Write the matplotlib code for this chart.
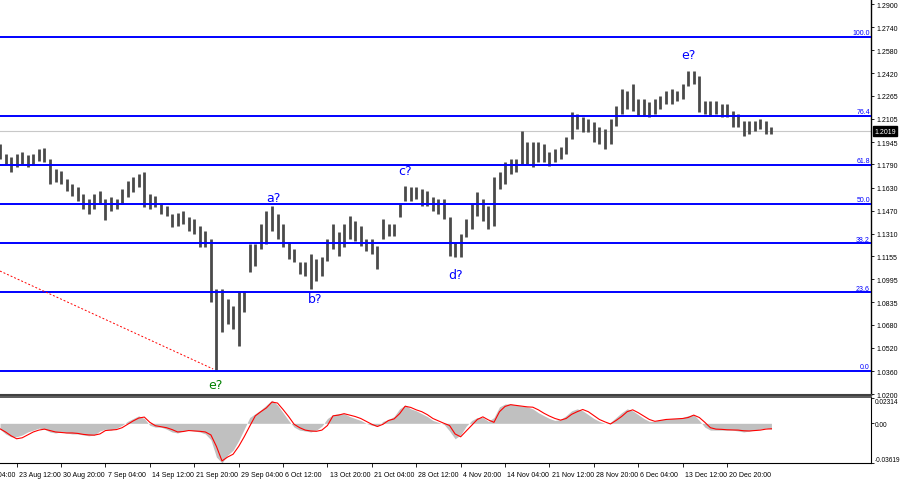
import matplotlib
matplotlib.use("Agg")
import matplotlib.pyplot as plt
import numpy as np

# H4 bars (compressed), high / low
bar_high = [1.1931, 1.1862, 1.1841, 1.1862, 1.1876, 1.1855, 1.1862, 1.1897, 1.1904, 1.1827,
            1.1758, 1.1744, 1.1689, 1.1655, 1.1634, 1.1585, 1.1550, 1.1585, 1.1606, 1.1550,
            1.1564, 1.1550, 1.1620, 1.1675, 1.1703, 1.1724, 1.1738, 1.1585, 1.1571, 1.1516,
            1.1502, 1.1447, 1.1454, 1.1468, 1.1426, 1.1412, 1.1364, 1.1329, 1.1274, 1.0928,
            1.0928, 1.0859, 1.0810, 1.0914, 1.0914, 1.1239, 1.1239, 1.1378, 1.1468, 1.1502,
            1.1447, 1.1378, 1.1253, 1.1205, 1.1115, 1.1115, 1.1170, 1.1135, 1.1149, 1.1274,
            1.1378, 1.1322, 1.1378, 1.1433, 1.1398, 1.1364, 1.1274, 1.1274, 1.1225, 1.1412,
            1.1378, 1.1378, 1.1516, 1.1641, 1.1634, 1.1634, 1.1620, 1.1606, 1.1564, 1.1550,
            1.1550, 1.1426, 1.1253, 1.1308, 1.1412, 1.1516, 1.1599, 1.1550, 1.1502, 1.1703,
            1.1738, 1.1807, 1.1827, 1.1827, 1.2021, 1.1945, 1.1945, 1.1945, 1.1931, 1.1876,
            1.1897, 1.1911, 1.1980, 1.2153, 1.2139, 1.2118, 1.2104, 1.2083, 1.2049, 1.2035,
            1.2104, 1.2194, 1.2312, 1.2298, 1.2346, 1.2243, 1.2243, 1.2222, 1.2243, 1.2263,
            1.2298, 1.2312, 1.2298, 1.2346, 1.2436, 1.2436, 1.2402, 1.2229, 1.2229, 1.2229,
            1.2208, 1.2208, 1.2160, 1.2139, 1.2090, 1.2090, 1.2090, 1.2104, 1.2090, 1.2049]
bar_low = [1.1827, 1.1793, 1.1738, 1.1772, 1.1793, 1.1772, 1.1786, 1.1814, 1.1807, 1.1655,
           1.1668, 1.1655, 1.1606, 1.1571, 1.1537, 1.1481, 1.1447, 1.1481, 1.1516, 1.1405,
           1.1468, 1.1481, 1.1516, 1.1564, 1.1599, 1.1634, 1.1495, 1.1481, 1.1495, 1.1447,
           1.1433, 1.1357, 1.1364, 1.1378, 1.1329, 1.1308, 1.1218, 1.1218, 1.0838, 1.0360,
           1.0630, 1.0686, 1.0651, 1.0533, 1.0769, 1.1046, 1.1087, 1.1205, 1.1239, 1.1329,
           1.1274, 1.1218, 1.1135, 1.1115, 1.1032, 1.1018, 1.0928, 1.0983, 1.1018, 1.1122,
           1.1205, 1.1156, 1.1218, 1.1274, 1.1260, 1.1225, 1.1191, 1.1170, 1.1066, 1.1274,
           1.1295, 1.1295, 1.1426, 1.1537, 1.1537, 1.1550, 1.1502, 1.1502, 1.1468, 1.1447,
           1.1412, 1.1156, 1.1149, 1.1149, 1.1288, 1.1343, 1.1433, 1.1398, 1.1343, 1.1364,
           1.1620, 1.1655, 1.1724, 1.1738, 1.1793, 1.1793, 1.1772, 1.1807, 1.1807, 1.1779,
           1.1807, 1.1827, 1.1862, 1.1966, 1.2035, 1.2014, 1.2014, 1.1945, 1.1931, 1.1897,
           1.1931, 1.2056, 1.2139, 1.2173, 1.2160, 1.2125, 1.2125, 1.2118, 1.2139, 1.2173,
           1.2208, 1.2208, 1.2229, 1.2243, 1.2333, 1.2346, 1.2153, 1.2139, 1.2125, 1.2139,
           1.2118, 1.2118, 1.2049, 1.2049, 1.1987, 1.2000, 1.2021, 1.2035, 1.2000, 1.2000]

# MACD (values in thousandths)
macd_hist = [-5.3, -9.7, -12.3, -12.3, -10.6, -7.9, -6.2, -4.4, -5.3, -7.9,
             -8.8, -7.9, -8.8, -9.7, -9.7, -10.6, -11.4, -10.6, -7.0, -5.3,
             -6.2, -4.4, -1.8, 1.8, 4.4, 6.8, 4.4, -1.8, -3.5, -3.5,
             -5.3, -7.9, -8.8, -7.0, -6.2, -7.0, -7.9, -9.7, -15.0, -30.8,
             -36.1, -29.0, -24.6, -15.8, -5.3, 5.3, 8.8, 12.3, 16.7, 21.1,
             16.7, 9.7, 2.6, -3.5, -6.2, -7.0, -7.9, -6.2, -2.6, 4.4,
             7.9, 8.8, 8.8, 6.2, 4.4, 2.6, 0.0, -1.8, -2.6, 1.8,
             3.5, 6.2, 13.2, 16.7, 13.2, 11.4, 8.8, 6.2, 2.6, 0.9,
             -0.9, -7.0, -14.1, -10.6, -2.6, 2.6, 5.3, 5.3, 1.8, 5.3,
             15.0, 17.6, 17.6, 16.7, 15.8, 15.0, 13.2, 9.7, 7.0, 4.4,
             2.6, 3.5, 7.0, 11.4, 13.2, 11.4, 7.9, 4.4, 1.8, 0.0,
             0.9, 5.3, 9.7, 13.2, 11.4, 7.9, 4.4, 1.8, 1.8, 3.5,
             3.5, 4.4, 4.4, 5.3, 7.0, 7.9, 2.6, -3.5, -6.2, -6.2,
             -6.2, -6.2, -6.2, -7.0, -7.9, -7.0, -6.2, -5.3, -4.4, -5.3]
macd_signal = [-5.0, -7.9, -11.4, -14.1, -13.2, -10.6, -7.9, -6.2, -5.3, -6.6,
               -7.9, -8.4, -8.8, -8.8, -9.2, -10.1, -10.6, -10.8, -9.7, -6.6,
               -6.2, -5.7, -4.0, -0.9, 2.2, 4.8, 5.7, 0.9, -2.2, -3.1,
               -4.0, -5.7, -7.9, -7.5, -6.6, -6.9, -7.3, -7.9, -10.6, -21.1,
               -34.3, -30.8, -28.2, -21.1, -12.3, -2.6, 6.8, 10.6, 14.1, 19.4,
               18.5, 12.6, 6.2, -0.9, -4.0, -6.2, -7.0, -7.3, -6.2, -2.0,
               6.8, 7.5, 8.8, 7.5, 6.2, 4.4, 1.8, -0.9, -2.9, -0.9,
               2.6, 4.0, 8.8, 15.6, 14.5, 12.3, 10.6, 7.9, 4.4, 2.2,
               0.0, -2.0, -9.7, -12.3, -7.0, -1.8, 3.5, 5.9, 3.1, 0.9,
               10.6, 15.4, 17.0, 16.3, 15.6, 15.0, 14.7, 12.3, 9.2, 6.6,
               4.4, 2.9, 4.4, 8.2, 10.6, 12.6, 10.6, 7.0, 3.5, 1.3,
               -0.6, 2.6, 6.2, 10.6, 12.3, 9.7, 6.6, 3.5, 1.8, 2.6,
               3.5, 3.8, 4.0, 4.4, 5.3, 7.5, 5.3, 0.9, -4.0, -5.3,
               -5.5, -5.9, -6.0, -6.2, -6.8, -7.0, -6.6, -6.2, -5.3, -5.0]

fib_names = ['100.0', '76.4', '61.8', '50.0', '38.2', '23.6', '0.0']
fib_prices = [1.2672, 1.2126, 1.1789, 1.1516, 1.1243, 1.0906, 1.0360]

price_ticks = [1.2900, 1.2740, 1.2580, 1.2420, 1.2265, 1.2105, 1.1945, 1.1790, 1.1630,
               1.1470, 1.1310, 1.1155, 1.0995, 1.0835, 1.0680, 1.0520, 1.0360, 1.0200]
last_price = 1.2019
macd_ticks = [0.02314, 0.0, -0.03619]
macd_tick_labels = ['0.02314', '0.00', '-0.03619']

date_labels = ['16 Aug 04:00', '23 Aug 12:00', '30 Aug 20:00', '7 Sep 04:00', '14 Sep 12:00',
               '21 Sep 20:00', '29 Sep 04:00', '6 Oct 12:00', '13 Oct 20:00', '21 Oct 04:00',
               '28 Oct 12:00', '4 Nov 20:00', '14 Nov 04:00', '21 Nov 12:00', '28 Nov 20:00',
               '6 Dec 04:00', '13 Dec 12:00', '20 Dec 20:00']
date_bars = [-5, 3, 11, 19, 27, 35, 43, 51, 59, 67, 75, 83, 91, 99, 107, 115, 123, 131]

wave_labels = ['e?', 'a?', 'b?', 'c?', 'd?', 'e?']
wave_bars = [38.9, 49.2, 56.8, 73.0, 82.0, 124.1]
wave_prices = [1.0264, 1.1564, 1.0859, 1.1751, 1.1025, 1.2554]
wave_colors = ['#008000', '#0000ff', '#0000ff', '#0000ff', '#0000ff', '#0000ff']

trend_bars = [0, 38.4]
trend_prices = [1.1052, 1.0374]

small_font = 'Liberation Sans'
small_size = 5

fig = plt.figure(figsize=(9, 4.85), dpi=100)
ax = fig.add_axes([0, 1 - 396 / 485, 871 / 900, 396 / 485])
ax2 = fig.add_axes([0, 1 - 464 / 485, 871 / 900, 66 / 485])

x = np.arange(len(bar_high))
xmax = 871 / 5.55

# --- price panel ---
ax.axhline(last_price, color='#c8c8c8', lw=0.8, zorder=0)
ax.vlines(x, bar_low, bar_high, color='#4a4a4a', lw=2.0, zorder=2)
for name, p in zip(fib_names, fib_prices):
    ax.axhline(p, color='#0000ff', lw=1.4, zorder=3)
    ax.text(xmax - 0.2, p + 0.0004, name, color='#0000ff', fontsize=small_size,
            family=small_font, ha='right', va='bottom')
ax.plot(trend_bars, trend_prices, color='#ff0000', ls=(0, (2, 2)), lw=0.7, zorder=3)
for lbl, b, p, c in zip(wave_labels, wave_bars, wave_prices, wave_colors):
    ax.text(b, p, lbl, color=c, fontsize=9, ha='center', va='center')

ax.set_xlim(0, xmax)
ax.set_ylim(1.0194, 1.2935)
ax.set_xticks([])
ax.yaxis.tick_right()
ax.set_yticks(price_ticks)
ax.set_yticklabels(['%.4f' % t for t in price_ticks], family=small_font)
ax.tick_params(axis='y', length=2.5, width=0.6, labelsize=small_size, pad=1.5)
for s in ['left', 'top']:
    ax.spines[s].set_visible(False)
ax.spines['right'].set_linewidth(1.0)
ax.spines['bottom'].set_color('#404040')
ax.spines['bottom'].set_linewidth(1.5)

ax.annotate('%.4f' % last_price, xy=(1.0, last_price), xycoords=('axes fraction', 'data'),
            xytext=(2.5, 0), textcoords='offset points', ha='left', va='center',
            fontsize=small_size, family=small_font, color='white',
            bbox=dict(boxstyle='square,pad=0.2', fc='black', ec='black'),
            annotation_clip=False)

# --- MACD panel ---
hist = np.array(macd_hist) * 1e-3
sig = np.array(macd_signal) * 1e-3
ax2.fill_between(x, 0, hist, color='#c0c0c0', lw=0)
ax2.plot(x, sig, color='#ff0000', lw=0.8)
ax2.set_xlim(0, xmax)
ax2.set_ylim(-0.0362, 0.0240)
ax2.yaxis.tick_right()
ax2.set_yticks(macd_ticks)
ax2.set_yticklabels(macd_tick_labels, family=small_font)
ax2.tick_params(axis='y', length=2, width=0.6, labelsize=4.7, pad=0.8)
ylabels = ax2.get_yticklabels()
ylabels[0].set_verticalalignment('top')
ylabels[-1].set_verticalalignment('bottom')
ax2.spines['left'].set_visible(False)
ax2.spines['top'].set_color('#404040')
ax2.spines['top'].set_linewidth(1.2)

ax2.set_xticks([b for b in date_bars if b >= 0])
ax2.set_xticklabels([])
ax2.tick_params(axis='x', length=3, width=0.6)
for lbl, b in zip(date_labels, date_bars):
    ax2.annotate(lbl, xy=(b, 0), xycoords=('data', 'axes fraction'), xytext=(1.5, -6),
                 textcoords='offset points', ha='left', va='top', fontsize=small_size,
                 family=small_font, annotation_clip=False)

fig.savefig('out.png', dpi=100)
